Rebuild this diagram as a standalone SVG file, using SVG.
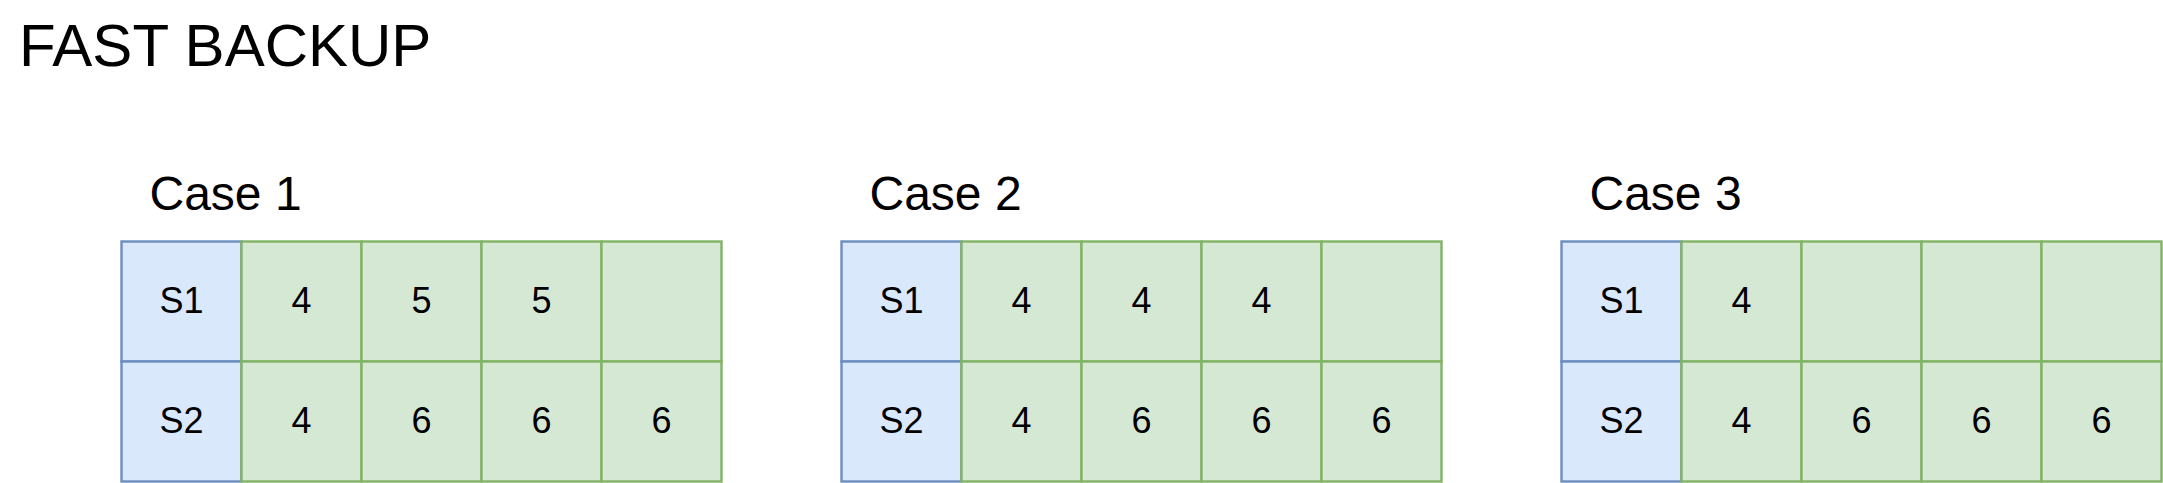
<svg xmlns="http://www.w3.org/2000/svg" width="2163" height="483" viewBox="0 0 2163 483">
<style>
  text { font-family: "Liberation Sans", Arial, Helvetica, sans-serif; fill: #000000; }
  .title { font-size: 60px; }
  .case { font-size: 48px; }
  .cell { font-size: 36px; text-anchor: middle; }
  .s { fill: #dae8fc; stroke: #6c8ebf; stroke-width: 2.4; }
  .v { fill: #d5e8d4; stroke: #82b366; stroke-width: 2.4; }
</style>
<rect x="0" y="0" width="2163" height="483" fill="#ffffff"/>
<g id="title"><text class="title" x="19" y="66">FAST BACKUP</text></g>

<g id="case1">
  <text class="case" x="149.5" y="210">Case 1</text>
  <rect class="s" x="121.5" y="241.5" width="120" height="120"/>
  <rect class="s" x="121.5" y="361.5" width="120" height="120"/>
  <rect class="v" x="241.5" y="241.5" width="120" height="120"/>
  <rect class="v" x="361.5" y="241.5" width="120" height="120"/>
  <rect class="v" x="481.5" y="241.5" width="120" height="120"/>
  <rect class="v" x="601.5" y="241.5" width="120" height="120"/>
  <rect class="v" x="241.5" y="361.5" width="120" height="120"/>
  <rect class="v" x="361.5" y="361.5" width="120" height="120"/>
  <rect class="v" x="481.5" y="361.5" width="120" height="120"/>
  <rect class="v" x="601.5" y="361.5" width="120" height="120"/>
  <text class="cell" x="181.5" y="313">S1</text>
  <text class="cell" x="181.5" y="433">S2</text>
  <text class="cell" x="301.5" y="313">4</text>
  <text class="cell" x="421.5" y="313">5</text>
  <text class="cell" x="541.5" y="313">5</text>
  <text class="cell" x="301.5" y="433">4</text>
  <text class="cell" x="421.5" y="433">6</text>
  <text class="cell" x="541.5" y="433">6</text>
  <text class="cell" x="661.5" y="433">6</text>
</g>

<g id="case2">
  <text class="case" x="869.5" y="210">Case 2</text>
  <rect class="s" x="841.5" y="241.5" width="120" height="120"/>
  <rect class="s" x="841.5" y="361.5" width="120" height="120"/>
  <rect class="v" x="961.5" y="241.5" width="120" height="120"/>
  <rect class="v" x="1081.5" y="241.5" width="120" height="120"/>
  <rect class="v" x="1201.5" y="241.5" width="120" height="120"/>
  <rect class="v" x="1321.5" y="241.5" width="120" height="120"/>
  <rect class="v" x="961.5" y="361.5" width="120" height="120"/>
  <rect class="v" x="1081.5" y="361.5" width="120" height="120"/>
  <rect class="v" x="1201.5" y="361.5" width="120" height="120"/>
  <rect class="v" x="1321.5" y="361.5" width="120" height="120"/>
  <text class="cell" x="901.5" y="313">S1</text>
  <text class="cell" x="901.5" y="433">S2</text>
  <text class="cell" x="1021.5" y="313">4</text>
  <text class="cell" x="1141.5" y="313">4</text>
  <text class="cell" x="1261.5" y="313">4</text>
  <text class="cell" x="1021.5" y="433">4</text>
  <text class="cell" x="1141.5" y="433">6</text>
  <text class="cell" x="1261.5" y="433">6</text>
  <text class="cell" x="1381.5" y="433">6</text>
</g>

<g id="case3">
  <text class="case" x="1589.5" y="210">Case 3</text>
  <rect class="s" x="1561.5" y="241.5" width="120" height="120"/>
  <rect class="s" x="1561.5" y="361.5" width="120" height="120"/>
  <rect class="v" x="1681.5" y="241.5" width="120" height="120"/>
  <rect class="v" x="1801.5" y="241.5" width="120" height="120"/>
  <rect class="v" x="1921.5" y="241.5" width="120" height="120"/>
  <rect class="v" x="2041.5" y="241.5" width="120" height="120"/>
  <rect class="v" x="1681.5" y="361.5" width="120" height="120"/>
  <rect class="v" x="1801.5" y="361.5" width="120" height="120"/>
  <rect class="v" x="1921.5" y="361.5" width="120" height="120"/>
  <rect class="v" x="2041.5" y="361.5" width="120" height="120"/>
  <text class="cell" x="1621.5" y="313">S1</text>
  <text class="cell" x="1621.5" y="433">S2</text>
  <text class="cell" x="1741.5" y="313">4</text>
  <text class="cell" x="1741.5" y="433">4</text>
  <text class="cell" x="1861.5" y="433">6</text>
  <text class="cell" x="1981.5" y="433">6</text>
  <text class="cell" x="2101.5" y="433">6</text>
</g>
<g id="connectors"/>
</svg>
